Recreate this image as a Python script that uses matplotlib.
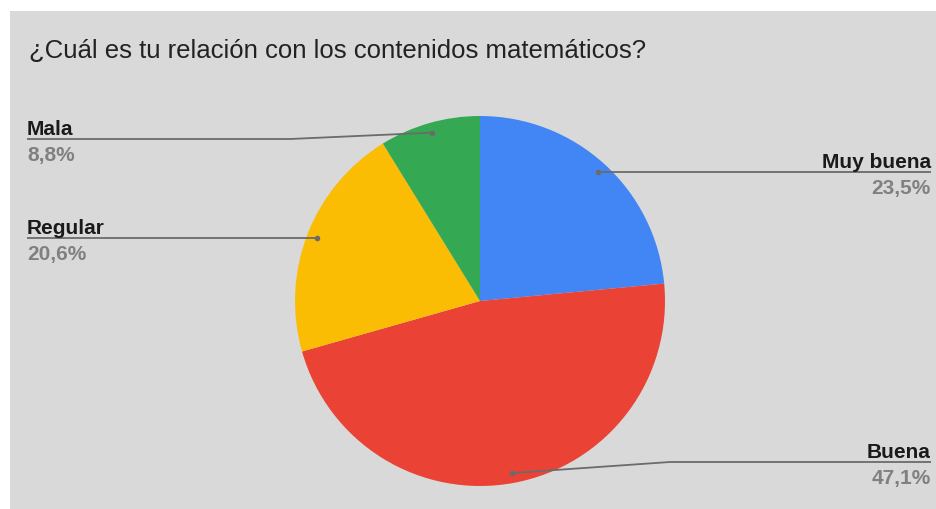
import numpy as np
import matplotlib
matplotlib.use("Agg")
import matplotlib.pyplot as plt
from matplotlib.patches import Rectangle

# Survey answers and their shares (%)
categories = ["Muy buena", "Buena", "Regular", "Mala"]
shares = [23.5, 47.1, 20.6, 8.8]
colors = ["#4285f4", "#ea4335", "#fbbc04", "#34a853"]
title = "¿Cuál es tu relación con los contenidos matemáticos?"

W, H = 937, 510
plt.rcParams["font.family"] = ["Liberation Sans", "DejaVu Sans"]

fig = plt.figure(figsize=(W / 100, H / 100), dpi=100)
fig.patch.set_facecolor("white")
# axes in pixel units (y measured upward)
ax = fig.add_axes([0, 0, 1, 1])

bg = "#d9d9d9"
ax.add_patch(Rectangle((10, 0), W - 10, H - 12, facecolor=bg, edgecolor="none", zorder=0))

cx, cy, r = 480, H - 302, 185
wedges, _ = ax.pie(shares, colors=colors, startangle=90, counterclock=False,
                   center=(cx, cy), radius=r, frame=True,
                   wedgeprops=dict(linewidth=0))
ax.set_xlim(0, W)
ax.set_ylim(0, H)
ax.set_aspect("equal")
ax.axis("off")

ax.text(29, H - 58, title, fontsize=18.5, color="#222222", ha="left", va="baseline")

# leader lines: (elbow x, elbow y, label x, side)
layout = {
    "Muy buena": (None, 173, 931, "right"),
    "Buena": (670, 463, 931, "right"),
    "Regular": (None, 239, 27, "left"),
    "Mala": (290, 140, 27, "left"),
}

line_col = "#6b6b6b"
for w, name, val in zip(wedges, categories, shares):
    mid = np.deg2rad((w.theta1 + w.theta2) / 2)
    ax_x = cx + (r - 10) * np.cos(mid)
    ax_y = cy + (r - 10) * np.sin(mid)
    ex, ey, lx, side = layout[name]
    ey = H - ey
    if ex is None:
        xs, ys = [ax_x, lx], [ax_y, ax_y]
        ey = ax_y
    else:
        xs, ys = [ax_x, ex, lx], [ax_y, ey, ey]
    ax.plot(xs, ys, color=line_col, lw=1.3, solid_capstyle="butt", zorder=3)
    ax.plot([ax_x], [ax_y], marker="o", ms=3, color=line_col, zorder=4)
    ha = "right" if side == "right" else "left"
    ax.text(lx, ey + 5, name, fontsize=15, fontweight="bold", color="#1a1a1a",
            ha=ha, va="baseline")
    pct = f"{val:.1f}%".replace(".", ",")
    ax.text(lx, ey - 21, pct, fontsize=15, fontweight="bold", color="#808080",
            ha=ha, va="baseline")

fig.savefig("out.png", dpi=100, facecolor=fig.get_facecolor())
